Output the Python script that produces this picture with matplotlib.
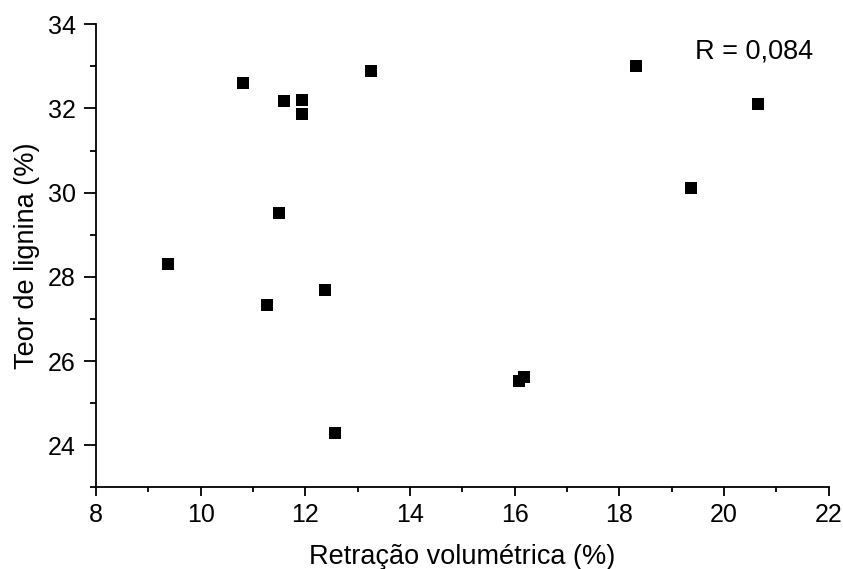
import numpy as np
import matplotlib
matplotlib.use("Agg")
import matplotlib.pyplot as plt
from matplotlib.ticker import MultipleLocator

# retração volumétrica (%) x teor de lignina (%)
retracao = [9.37, 10.80, 11.26, 11.50, 11.59, 11.94, 11.94, 12.38, 12.56,
            13.26, 16.09, 16.17, 18.31, 19.37, 20.65]
lignina = [28.30, 32.61, 27.33, 29.52, 32.17, 32.19, 31.86, 27.69, 24.29,
           32.89, 25.53, 25.62, 33.01, 30.10, 32.11]

texto_r = "R = 0,084"

plt.rcParams['font.family'] = ['Liberation Sans', 'DejaVu Sans']

fig = plt.figure(figsize=(8.43, 5.69), dpi=100)
ax = fig.add_axes([0.1139, 0.1436, 0.8691, 0.8137])

ax.plot(retracao, lignina, linestyle='none', marker='s', markersize=8.3,
        color='black', markeredgewidth=0)

ax.set_xlim(8, 22)
ax.set_ylim(23, 34)
ax.xaxis.set_major_locator(MultipleLocator(2))
ax.xaxis.set_minor_locator(MultipleLocator(1))
ax.yaxis.set_major_locator(MultipleLocator(2))
ax.yaxis.set_minor_locator(MultipleLocator(1))

for lado in ['top', 'right']:
    ax.spines[lado].set_visible(False)
for lado in ['left', 'bottom']:
    ax.spines[lado].set_linewidth(1.3)

ax.tick_params(axis='y', which='major', direction='out', length=8.5, width=1.3,
               labelsize=18, pad=6)
ax.tick_params(axis='y', which='minor', direction='out', length=4.3, width=1.3)
ax.tick_params(axis='x', which='major', direction='out', length=6.5, width=1.3,
               labelsize=18, pad=5)
ax.tick_params(axis='x', which='minor', direction='out', length=3.6, width=1.3)

ax.set_xlabel('Retração volumétrica (%)', fontsize=19.5, labelpad=12)
ax.set_ylabel('Teor de lignina (%)', fontsize=19.5, labelpad=6)

ax.text(19.45, 33.36, texto_r, fontsize=19.5, ha='left', va='center')

fig.savefig('out.png', dpi=100)
